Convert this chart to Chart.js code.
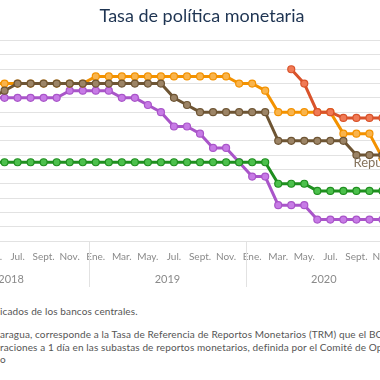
<!DOCTYPE html>
<html lang="es">
<head>
<meta charset="utf-8">
<script src="https://cdn.jsdelivr.net/npm/chart.js@4"></script>
<style>
  html, body { margin: 0; padding: 0; background: #fff; }
  body { width: 380px; height: 380px; overflow: hidden; position: relative; font-family: Lato, "Open Sans", sans-serif; }
  #wrap { position: absolute; left: -40px; top: 0; width: 484px; height: 300px; }
  .nota { position: absolute; left: 0; white-space: nowrap; font-size: 10px; letter-spacing: 0.12px; color: #555; line-height: 12.5px; }
</style>
</head>
<body>
<div id="wrap"><canvas id="tpmChart"></canvas></div>
<div class="nota" style="top:305px">icados de los bancos centrales.</div>
<div class="nota" style="top:328px">aragua, corresponde a la Tasa de Referencia de Reportos Monetarios (TRM) que el BCN<br>raciones a 1 día en las subastas de reportos monetarios, definida por el Comité de Operaciones<br>o</div>
<script>
(function() {
    'use strict';

    // Meses (mayo 2018 - noviembre 2020)
    const nombresMes = ['Ene.', 'Feb.', 'Mar.', 'Abr.', 'May.', 'Jun.', 'Jul.', 'Ago.', 'Sept.', 'Oct.', 'Nov.', 'Dic.'];
    const meses = [
        'May.', 'Jun.', 'Jul.', 'Ago.', 'Sept.', 'Oct.', 'Nov.', 'Dic.',
        'Ene.', 'Feb.', 'Mar.', 'Abr.', 'May.', 'Jun.', 'Jul.', 'Ago.', 'Sept.', 'Oct.', 'Nov.', 'Dic.',
        'Ene.', 'Feb.', 'Mar.', 'Abr.', 'May.', 'Jun.', 'Jul.', 'Ago.', 'Sept.', 'Oct.', 'Nov.'
    ];
    const anios = [
        '2018', '2018', '2018', '2018', '2018', '2018', '2018', '2018',
        '2019', '2019', '2019', '2019', '2019', '2019', '2019', '2019', '2019', '2019', '2019', '2019',
        '2020', '2020', '2020', '2020', '2020', '2020', '2020', '2020', '2020', '2020', '2020'
    ];
    const mesesVisibles = ['Ene.', 'Mar.', 'May.', 'Jul.', 'Sept.', 'Nov.'];

    // Tasas de política monetaria (%)
    const nicaragua = [
        null, null, null, null, null, null, null, null,
        null, null, null, null, null, null, null, null, null, null, null, null,
        null, null, null, 6.0, 5.5, 4.5, 4.5, 4.3, 4.3, 4.3, 4.3
    ];
    const repDominicana = [
        5.0, 5.25, 5.5, 5.5, 5.5, 5.5, 5.5, 5.5,
        5.5, 5.5, 5.5, 5.5, 5.5, 5.5, 5.0, 4.75, 4.5, 4.5, 4.5, 4.5,
        4.5, 4.5, 3.5, 3.5, 3.5, 3.5, 3.5, 3.5, 3.0, 3.0, 3.0
    ];
    const guatemala = [
        2.75, 2.75, 2.75, 2.75, 2.75, 2.75, 2.75, 2.75,
        2.75, 2.75, 2.75, 2.75, 2.75, 2.75, 2.75, 2.75, 2.75, 2.75, 2.75, 2.75,
        2.75, 2.75, 2.0, 2.0, 2.0, 1.75, 1.75, 1.75, 1.75, 1.75, 1.75
    ];
    const honduras = [
        5.5, 5.5, 5.5, 5.5, 5.5, 5.5, 5.5, 5.5,
        5.75, 5.75, 5.75, 5.75, 5.75, 5.75, 5.75, 5.75, 5.75, 5.75, 5.75, 5.5,
        5.5, 5.25, 4.5, 4.5, 4.5, 4.5, 4.5, 3.75, 3.75, 3.75, 2.9
    ];
    const costaRica = [
        5.0, 5.0, 5.0, 5.0, 5.0, 5.0, 5.25, 5.25,
        5.25, 5.25, 5.0, 5.0, 4.75, 4.5, 4.0, 4.0, 3.75, 3.25, 3.25, 2.75,
        2.25, 2.25, 1.25, 1.25, 1.25, 0.75, 0.75, 0.75, 0.75, 0.75, 0.75
    ];

    const FONT = 'Lato, "Open Sans", sans-serif';

    function serie(label, data, linea, relleno) {
        return {
            label: label,
            data: data,
            borderColor: linea,
            backgroundColor: relleno,
            borderWidth: 3,
            tension: 0,
            pointRadius: 3.5,
            pointBorderWidth: 1.2,
            pointBorderColor: linea,
            pointBackgroundColor: relleno,
            spanGaps: false,
            fill: false
        };
    }

    // Separadores y etiquetas de año bajo el eje x, etiqueta de serie
    const aniosPlugin = {
        id: 'aniosEje',
        afterDraw(chart) {
            const x = chart.scales.x;
            const ctx = chart.ctx;
            const banda = x.getPixelForValue(1) - x.getPixelForValue(0);
            ctx.save();
            ctx.strokeStyle = '#e2e2e2';
            ctx.lineWidth = 1;
            for (let i = 1; i < anios.length; i++) {
                if (anios[i] !== anios[i - 1]) {
                    const sx = Math.round(x.getPixelForValue(i) - banda / 2) + 0.5;
                    ctx.beginPath();
                    ctx.moveTo(sx, x.top);
                    ctx.lineTo(sx, x.top + 46);
                    ctx.stroke();
                }
            }
            ctx.fillStyle = '#8a8a8a';
            ctx.font = '11px ' + FONT;
            ctx.textAlign = 'center';
            ctx.textBaseline = 'middle';
            for (let i = 0; i < anios.length; i++) {
                if (i === 0 || anios[i] !== anios[i - 1]) {
                    const centro = x.getPixelForValue(i) + (5.5 - nombresMes.indexOf(meses[i])) * banda;
                    ctx.fillText(anios[i], centro, x.top + 38);
                }
            }
            // etiqueta "República Dominicana"
            const pt = chart.getDatasetMeta(1).data[28];
            ctx.fillStyle = '#85735d';
            ctx.font = '13px ' + FONT;
            ctx.textAlign = 'left';
            ctx.textBaseline = 'top';
            ctx.fillText('República Dominicana', pt.x - 3, pt.y + 1);
            ctx.restore();
        }
    };

    const config = {
        type: 'line',
        data: {
            labels: meses,
            datasets: [
                serie('Nicaragua', nicaragua, '#d9532b', '#f07a55'),
                serie('República Dominicana', repDominicana, '#6e5534', '#9c8466'),
                serie('Guatemala', guatemala, '#1f8f1f', '#4cc04c'),
                serie('Honduras', honduras, '#f39200', '#f9b44c'),
                serie('Costa Rica', costaRica, '#a955c9', '#c77be6')
            ]
        },
        options: {
            responsive: true,
            maintainAspectRatio: false,
            animation: false,
            layout: {
                autoPadding: false,
                padding: { top: 5, right: 25, bottom: 0, left: 25 }
            },
            plugins: {
                legend: { display: false },
                tooltip: { enabled: false },
                title: {
                    display: true,
                    text: 'Tasa de política monetaria',
                    color: '#1e3452',
                    font: { size: 18, weight: 'normal', family: FONT },
                    padding: { top: 0, bottom: 14 }
                }
            },
            scales: {
                x: {
                    offset: true,
                    grid: { display: false, drawTicks: false },
                    border: { display: false },
                    ticks: {
                        autoSkip: false,
                        maxRotation: 0,
                        minRotation: 0,
                        padding: 10,
                        color: '#8a8a8a',
                        font: { size: 10, family: FONT },
                        callback: function(value) {
                            const m = this.getLabelForValue(value);
                            return mesesVisibles.includes(m) ? m : '';
                        }
                    },
                    afterFit: function(scale) {
                        scale.height = 59;
                    }
                },
                y: {
                    position: 'right',
                    min: 0,
                    max: 7,
                    grid: { color: '#e2e2e2', lineWidth: 1, drawTicks: false },
                    border: { display: false },
                    ticks: { display: false, stepSize: 0.5 },
                    afterFit: function(scale) {
                        scale.width = 30;
                    }
                }
            }
        },
        plugins: [aniosPlugin]
    };

    new Chart(document.getElementById('tpmChart'), config);
})();
</script>
</body>
</html>
